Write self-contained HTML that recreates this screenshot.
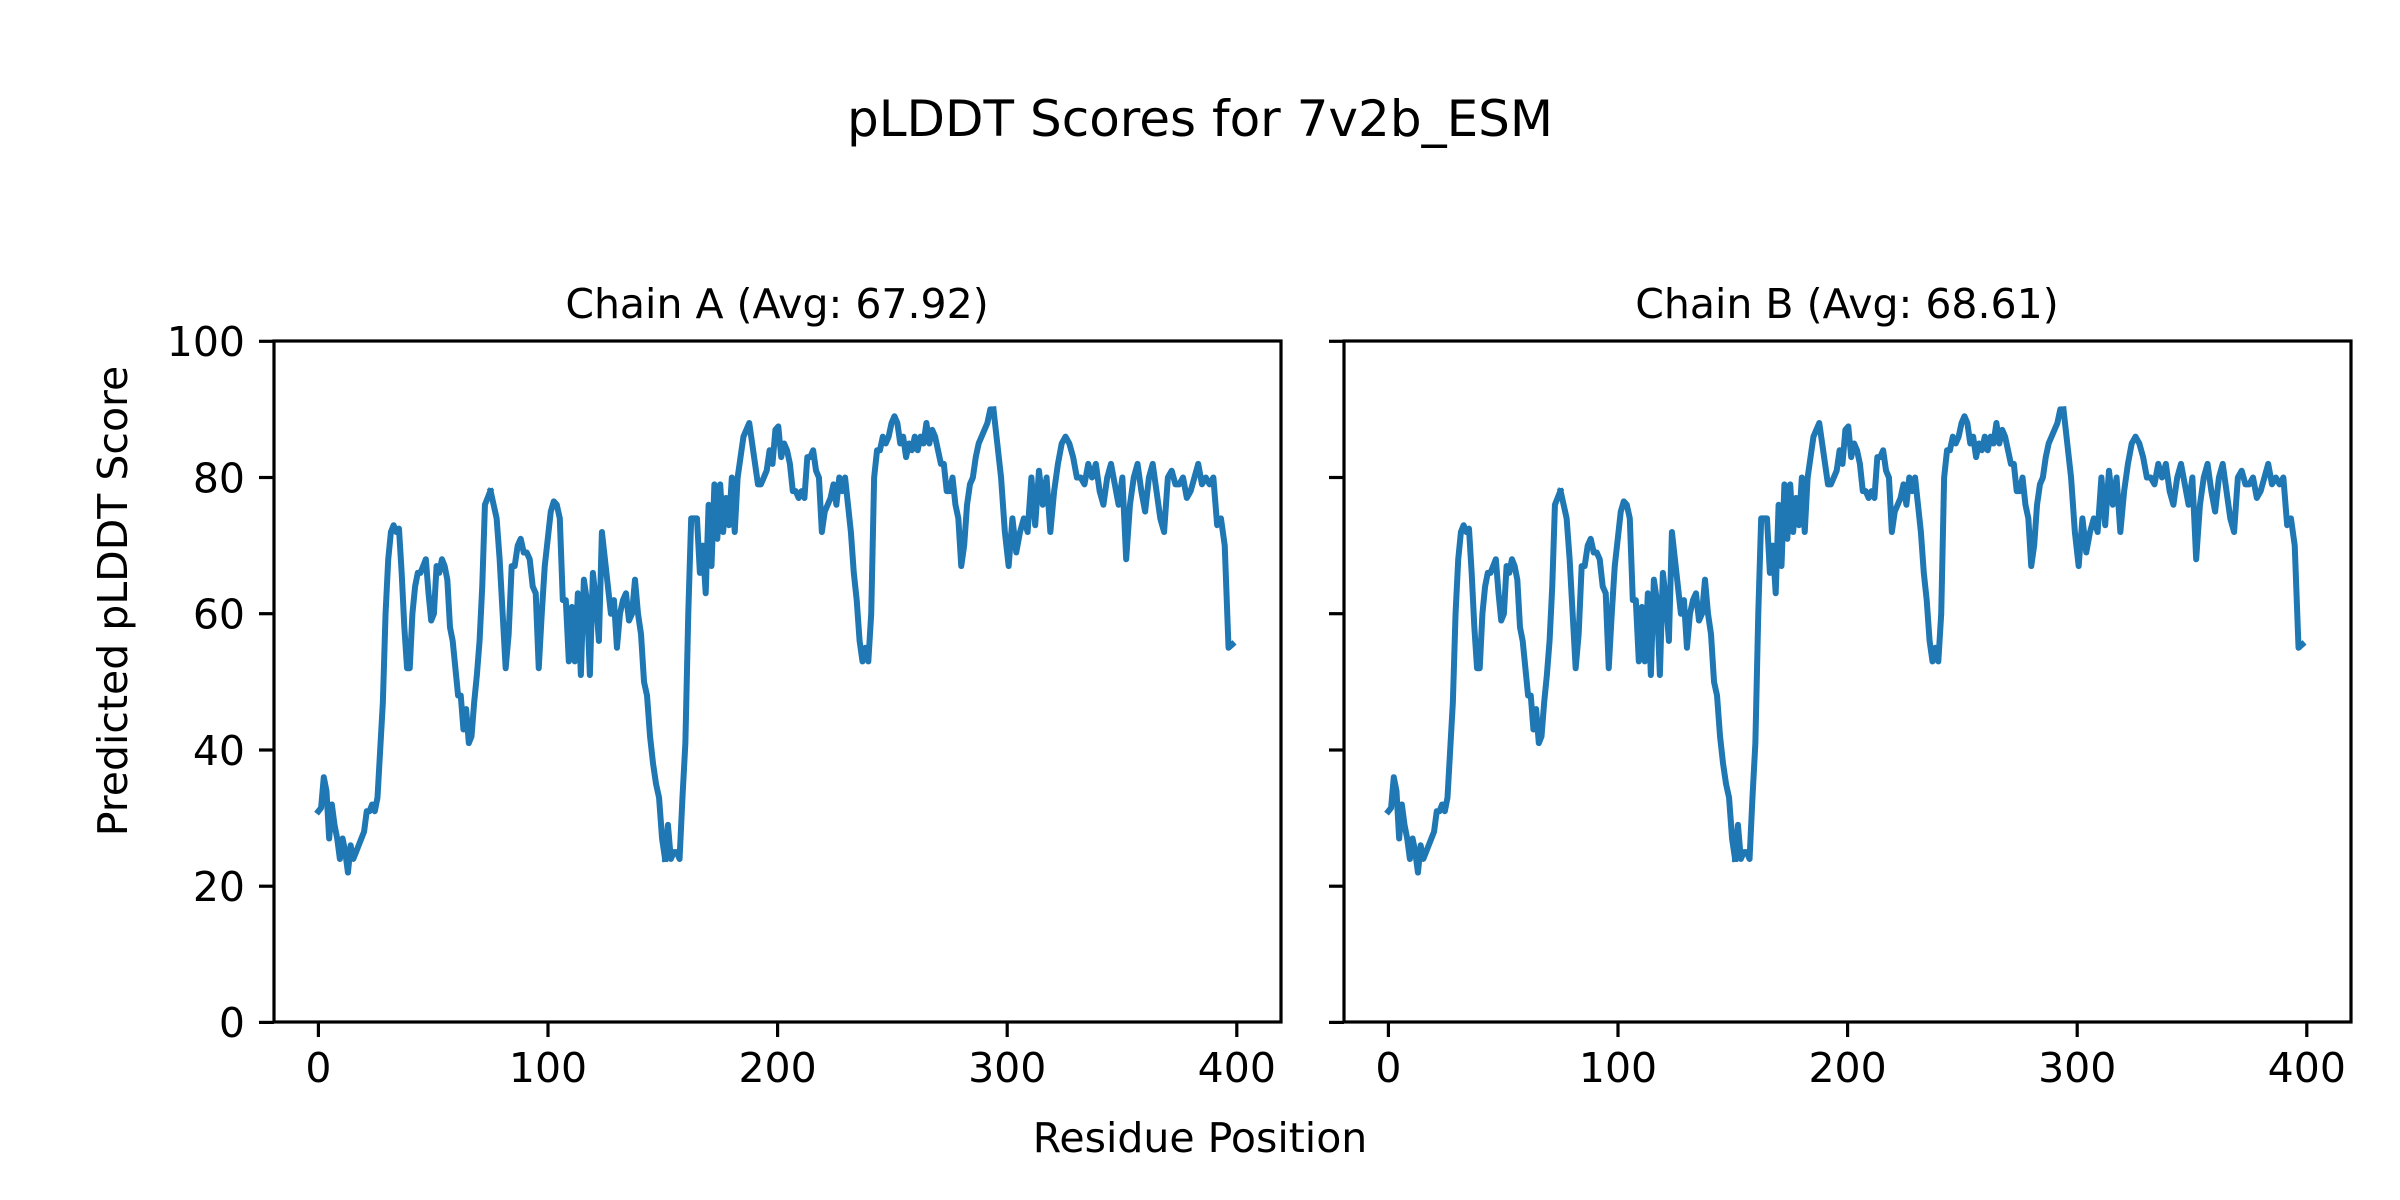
<!DOCTYPE html>
<html><head><meta charset="utf-8"><style>
html,body{margin:0;padding:0;background:#fff;}
svg{display:block;}
text{font-family:"DejaVu Sans","Liberation Sans",sans-serif;fill:#000;}
</style></head><body>
<svg width="2400" height="1200" viewBox="0 0 2400 1200" xmlns="http://www.w3.org/2000/svg">
<rect width="2400" height="1200" fill="#fff"/>
<text x="1200" y="136" font-size="50" text-anchor="middle">pLDDT Scores for 7v2b_ESM</text>
<text x="777" y="318" font-size="41" text-anchor="middle">Chain A (Avg: 67.92)</text>
<text x="1847" y="318" font-size="41" text-anchor="middle">Chain B (Avg: 68.61)</text>
<text x="1200" y="1152" font-size="41" text-anchor="middle">Residue Position</text>
<text transform="translate(127,601) rotate(-90)" font-size="41" text-anchor="middle">Predicted pLDDT Score</text>

<defs>
<g id="sa" fill="none" stroke="#1f77b4" stroke-width="6" stroke-linejoin="round" stroke-linecap="square">
<polyline vector-effect="non-scaling-stroke" transform="matrix(2.686,0,0,-6.811,318.4,1022.4)" points="0,31 1,31.5 2,36 3,34 4,27 5,32 6,29 7,27 8,24 9,27 10,25 11,22 12,26 13,24 14,25 15,26 16,27 17,28 18,31 19,31 20,32 21,31 22,33 24,47 25,60 26,68 27,72 28,73 29,72 30,72.5 31,66 32,58 33,52 34,52 35,60 36,64 37,66 38,66 39,67 40,68 41,63 42,59 43,60 44,67 45,66 46,68 47,67 48,65 49,58 50,56 51,52 52,48 53,48 54,43 55,46 56,41 57,42 58,47 59,51 60,56 61,64 62,76 63,77 64,78"/>
<polyline vector-effect="non-scaling-stroke" transform="matrix(3.008,0,0,-6.811,298.1,1022.4)" points="64,78 65,76 66,74 67,68 68,60 69,52 70,57 71,67 72,67 73,70 74,71 75,69 76,69 77,68 78,64 79,63 80,52 81,60 82,67 83,71 84,75 85,76.5 86,76 87,74 88,62 89,62 90,53 91,61 92,53 93,63 94,51 95,65 96,62 97,51 98,66 99,62 100,56 101,72 102,68 103,64 104,60 105,62 106,55 107,60 108,62 109,63 110,59 111,60 112,65 113,60 114,57 115,50 116,48 117,42 118,38 119,35 120,33 121,27 122,24"/>
<polyline vector-effect="non-scaling-stroke" transform="matrix(2.904,0,0,-6.811,310.75,1022.4)" points="122,24 123,29 124,24 125,25 126,25 127,24 128,33 129,41 130,60 131,74 132,74 133,74 134,66 135,70 136,63 137,76 138,67 139,79 140,71 141,79 142,72 143,77 144,73 145,80 146,72 147,80 148,83 149,86 150,87 151,88 152,85 153,82 154,79 155,79 156,80 157,81 158,84 159,82 160,87 161,87.5 162,83 163,85 164,84 165,82 166,78 167,78 168,77 169,78 170,77 171,83 172,83 173,84 174,81 175,80 176,72 177,75 178,76 179,77 180,79 181,76 182,80 183,78 184,80 185,76 186,72 187,66 188,62 189,56 190,53 191,55 192,53 193,60 194,80 195,84 196,84 197,86 198,85 199,86 200,88 201,89 202,88 203,85 204,86 205,83 206,85 207,84 208,86 209,84 210,86 211,85 212,88 213,85 214,87 215,86 216,84 217,82 218,82 219,78 220,78 221,80 222,76 223,74 224,67 225,70 226,76 227,79 228,80 229,83 230,85 231,86 232,87 233,88 234,90 235,90"/>
<polyline vector-effect="non-scaling-stroke" transform="matrix(3.791,0,0,-6.811,102.6,1022.4)" points="235,90 236,85 237,80 238,72 239,67 240,74 241,69 242,72 243,74 244,72 245,80 246,73 247,81 248,76 249,80 250,72 251,78 252,82 253,85 254,86 255,85 256,83 257,80 258,80 259,79 260,82 261,80 262,82 263,78 264,76 265,80 266,82 267,79 268,76 269,80 270,68 271,76 272,80 273,82 274,78 275,75 276,80 277,82 278,78 279,74 280,72 281,80 282,81 283,79 284,79 285,80 286,77 287,78 288,80 289,82 290,79 291,80 292,79 293,80 294,73 295,74 296,70 297,55 298,55.5"/>
</g>
</defs>

<use href="#sa"/>
<rect x="274" y="341" width="1007" height="681" fill="none" stroke="#000" stroke-width="3.2"/>
<use href="#sa" transform="translate(1070,0)"/>
<rect x="1344" y="341" width="1007" height="681" fill="none" stroke="#000" stroke-width="3.2"/>

<g stroke="#000" stroke-width="3.2">
<line x1="318.4" y1="1022" x2="318.4" y2="1037"/><line x1="548" y1="1022" x2="548" y2="1037"/><line x1="777.6" y1="1022" x2="777.6" y2="1037"/><line x1="1007.2" y1="1022" x2="1007.2" y2="1037"/><line x1="1236.8" y1="1022" x2="1236.8" y2="1037"/>
<line x1="1388.4" y1="1022" x2="1388.4" y2="1037"/><line x1="1618" y1="1022" x2="1618" y2="1037"/><line x1="1847.6" y1="1022" x2="1847.6" y2="1037"/><line x1="2077.2" y1="1022" x2="2077.2" y2="1037"/><line x1="2306.8" y1="1022" x2="2306.8" y2="1037"/>
<line x1="274" y1="1022.4" x2="259" y2="1022.4"/><line x1="274" y1="886.2" x2="259" y2="886.2"/><line x1="274" y1="750" x2="259" y2="750"/><line x1="274" y1="613.7" x2="259" y2="613.7"/><line x1="274" y1="477.5" x2="259" y2="477.5"/><line x1="274" y1="341.3" x2="259" y2="341.3"/>
<line x1="1344" y1="1022.4" x2="1329" y2="1022.4"/><line x1="1344" y1="886.2" x2="1329" y2="886.2"/><line x1="1344" y1="750" x2="1329" y2="750"/><line x1="1344" y1="613.7" x2="1329" y2="613.7"/><line x1="1344" y1="477.5" x2="1329" y2="477.5"/><line x1="1344" y1="341.3" x2="1329" y2="341.3"/>
</g>
<g font-size="41" text-anchor="middle">
<text x="318.4" y="1082">0</text><text x="548" y="1082">100</text><text x="777.6" y="1082">200</text><text x="1007.2" y="1082">300</text><text x="1236.8" y="1082">400</text>
<text x="1388.4" y="1082">0</text><text x="1618" y="1082">100</text><text x="1847.6" y="1082">200</text><text x="2077.2" y="1082">300</text><text x="2306.8" y="1082">400</text>
</g>
<g font-size="41" text-anchor="end">
<text x="245" y="1037">0</text><text x="245" y="901">20</text><text x="245" y="765">40</text><text x="245" y="628.5">60</text><text x="245" y="492.5">80</text><text x="245" y="356">100</text>
</g>
</svg>
</body></html>
